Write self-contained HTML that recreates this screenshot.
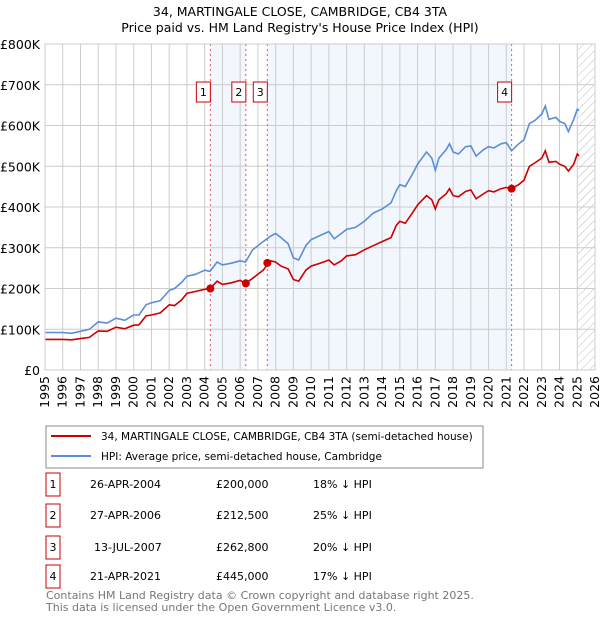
<!DOCTYPE html>
<html><head><meta charset="utf-8"><style>
body{margin:0;background:#fff;font-family:"DejaVu Sans","Liberation Sans",sans-serif;}
svg text{font-family:"DejaVu Sans","Liberation Sans",sans-serif;}
</style></head><body>
<svg id="chart" width="600" height="620" xmlns="http://www.w3.org/2000/svg">
<defs><pattern id="hatch" width="6" height="6" patternUnits="userSpaceOnUse" patternTransform="rotate(45)"><line x1="0" y1="0" x2="0" y2="6" stroke="#bbb" stroke-width="1"/></pattern></defs>
<text x="300" y="16" text-anchor="middle" font-size="12.5">34, MARTINGALE CLOSE, CAMBRIDGE, CB4 3TA</text>
<text x="300" y="32" text-anchor="middle" font-size="12.5">Price paid vs. HM Land Registry's House Price Index (HPI)</text>
<g id="plot"></g>
<g>
<rect x="46" y="426" width="437" height="42" fill="#fff" stroke="#888"/>
<line x1="51" y1="436" x2="91" y2="436" stroke="#cc0000" stroke-width="2"/>
<text x="101" y="440" font-size="10.5">34, MARTINGALE CLOSE, CAMBRIDGE, CB4 3TA (semi-detached house)</text>
<line x1="51" y1="456" x2="91" y2="456" stroke="#5b8ed6" stroke-width="2"/>
<text x="101" y="460" font-size="10.5">HPI: Average price, semi-detached house, Cambridge</text>
</g>
<g id="table" font-size="11"></g>
<text x="46" y="599" font-size="11" fill="#777">Contains HM Land Registry data © Crown copyright and database right 2025.</text>
<text x="46" y="611" font-size="11" fill="#777">This data is licensed under the Open Government Licence v3.0.</text>
</svg>
<script>
const hpiYears=[1995,1996,1996.5,1997,1997.5,1998,1998.5,1999,1999.5,2000,2000.3,2000.7,2001,2001.5,2002,2002.3,2002.7,2003,2003.5,2004,2004.3,2004.7,2005,2005.5,2006,2006.3,2006.7,2007,2007.3,2007.7,2008,2008.3,2008.7,2009,2009.3,2009.7,2010,2010.5,2011,2011.3,2011.7,2012,2012.5,2013,2013.5,2014,2014.5,2014.8,2015,2015.3,2015.7,2016,2016.5,2016.8,2017,2017.2,2017.6,2017.8,2018,2018.3,2018.7,2019,2019.3,2019.7,2020,2020.3,2020.7,2021,2021.3,2021.7,2022,2022.3,2022.6,2023,2023.2,2023.4,2023.8,2024,2024.3,2024.5,2024.8,2025,2025.1];
const hpiValues=[92,92,90,95,100,118,115,127,122,135,135,160,165,170,195,200,215,230,235,245,242,265,258,262,268,265,295,305,315,328,335,325,310,275,270,305,320,330,340,322,335,345,350,365,385,395,410,440,455,450,480,505,535,520,490,520,540,555,535,530,548,550,525,540,548,545,555,558,538,555,565,605,612,628,648,615,620,610,605,585,615,640,636];
const priceValues=[75,75,74,77,80,96,95,105,101,110,111,133,135,140,160,158,172,188,193,198,200,218,210,214,220,212.5,225,235,245,268,265,255,248,222,218,245,255,262,270,258,268,280,283,295,305,315,325,355,365,360,385,405,428,418,395,418,432,445,428,425,438,442,420,432,440,437,445,448,445,455,466,500,508,520,538,510,512,505,500,488,505,530,525];
const saleYears=[2004.32,2006.32,2007.53,2021.3];
const saleValues=[200,212.5,262.8,445];
const saleDates=["26-APR-2004","27-APR-2006","13-JUL-2007","21-APR-2021"];
const salePrices=["£200,000","£212,500","£262,800","£445,000"];
const salePct=["18% ↓ HPI","25% ↓ HPI","20% ↓ HPI","17% ↓ HPI"];
const yTicks=[0,100,200,300,400,500,600,700,800];
const yTickLabels=["£0","£100K","£200K","£300K","£400K","£500K","£600K","£700K","£800K"];
const xTicks=[1995,1996,1997,1998,1999,2000,2001,2002,2003,2004,2005,2006,2007,2008,2009,2010,2011,2012,2013,2014,2015,2016,2017,2018,2019,2020,2021,2022,2023,2024,2025,2026];

const X0=45,X1=595,Y0=370,Y1=44;
const xs=y=>X0+(y-1995)/(2026-1995)*(X1-X0);
const ys=v=>Y0-v/800*(Y0-Y1);
const NS="http://www.w3.org/2000/svg";
const plot=document.getElementById('plot');
function mk(tag,attrs,parent){const e=document.createElementNS(NS,tag);for(const k in attrs)e.setAttribute(k,attrs[k]);(parent||plot).appendChild(e);return e;}
let s1=mk('rect',{x:xs(saleYears[0]),y:Y1,width:xs(saleYears[1])-xs(saleYears[0]),height:Y0-Y1,fill:'#f2f6fd'});


let s2=mk('rect',{x:xs(saleYears[2]),y:Y1,width:xs(saleYears[3])-xs(saleYears[2]),height:Y0-Y1,fill:'#f2f6fd'});


let h=mk('rect',{x:xs(2025.05),y:Y1,width:X1-xs(2025.05),height:Y0-Y1,fill:'url(#hatch)'});


yTicks.forEach((t,i)=>{
 let l=mk('line',{x1:X0,x2:X1,y1:ys(t),y2:ys(t),stroke:'#ccc'});
 
 
 let tx=mk('text',{x:40,y:ys(t)+5,'text-anchor':'end','font-size':'12.5'});tx.textContent=yTickLabels[i];
 
 
});
xTicks.forEach(t=>{
 let l=mk('line',{x1:xs(t),x2:xs(t),y1:Y1,y2:Y0,stroke:'#ccc'});
 
 
 let tx=mk('text',{x:0,y:0,'text-anchor':'end','font-size':'12.5',transform:`translate(${xs(t)+4},${Y0+6}) rotate(-90)`});tx.textContent=t;
 
 
});
saleYears.forEach((y,i)=>{
 let l=mk('line',{x1:xs(y),x2:xs(y),y1:Y1,y2:Y0,stroke:'#e55','stroke-dasharray':'2,3'});
 
 
});
function path(vals,color,name){
 let d=hpiYears.map((y,i)=>(i?'L':'M')+xs(y).toFixed(1)+','+ys(vals[i]).toFixed(1)).join('');
 let p=mk('path',{d:d,fill:'none',stroke:color,'stroke-width':1.6});
 
 
}
path(hpiValues,'#5b8ed6','hpi-line');
path(priceValues,'#cc0000','price-paid-line');
saleYears.forEach((y,i)=>{
 let c=mk('circle',{cx:xs(y),cy:ys(saleValues[i]),r:4,fill:'#cc0000'});
 
 
 let r=mk('rect',{x:xs(y)-14,y:82,width:14,height:20,fill:'#fff',stroke:'#cc0000'});
 
 
 let t=mk('text',{x:xs(y)-7,y:96,'text-anchor':'middle','font-size':'11'});t.textContent=i+1;
 
 
});
mk('rect',{x:X0,y:Y1,width:X1-X0,height:Y0-Y1,fill:'none',stroke:'#ccc'});
const tb=document.getElementById('table');
const rowY=[482,513,545,574];
saleDates.forEach((d,i)=>{
 const y=rowY[i];
 let r=mk('rect',{x:46,y:y-9,width:14,height:23,fill:'#fff',stroke:'#cc0000'},tb);
 
 
 let n=mk('text',{x:53,y:y+6,'text-anchor':'middle'},tb);n.textContent=i+1;
 
 
 let a=mk('text',{x:i==2?94:90,y:y+6},tb);a.textContent=d;
 
 
 let b=mk('text',{x:216,y:y+6},tb);b.textContent=salePrices[i];
 
 
 let c=mk('text',{x:313,y:y+6},tb);c.textContent=salePct[i];
 
 
});
</script>
</body></html>
